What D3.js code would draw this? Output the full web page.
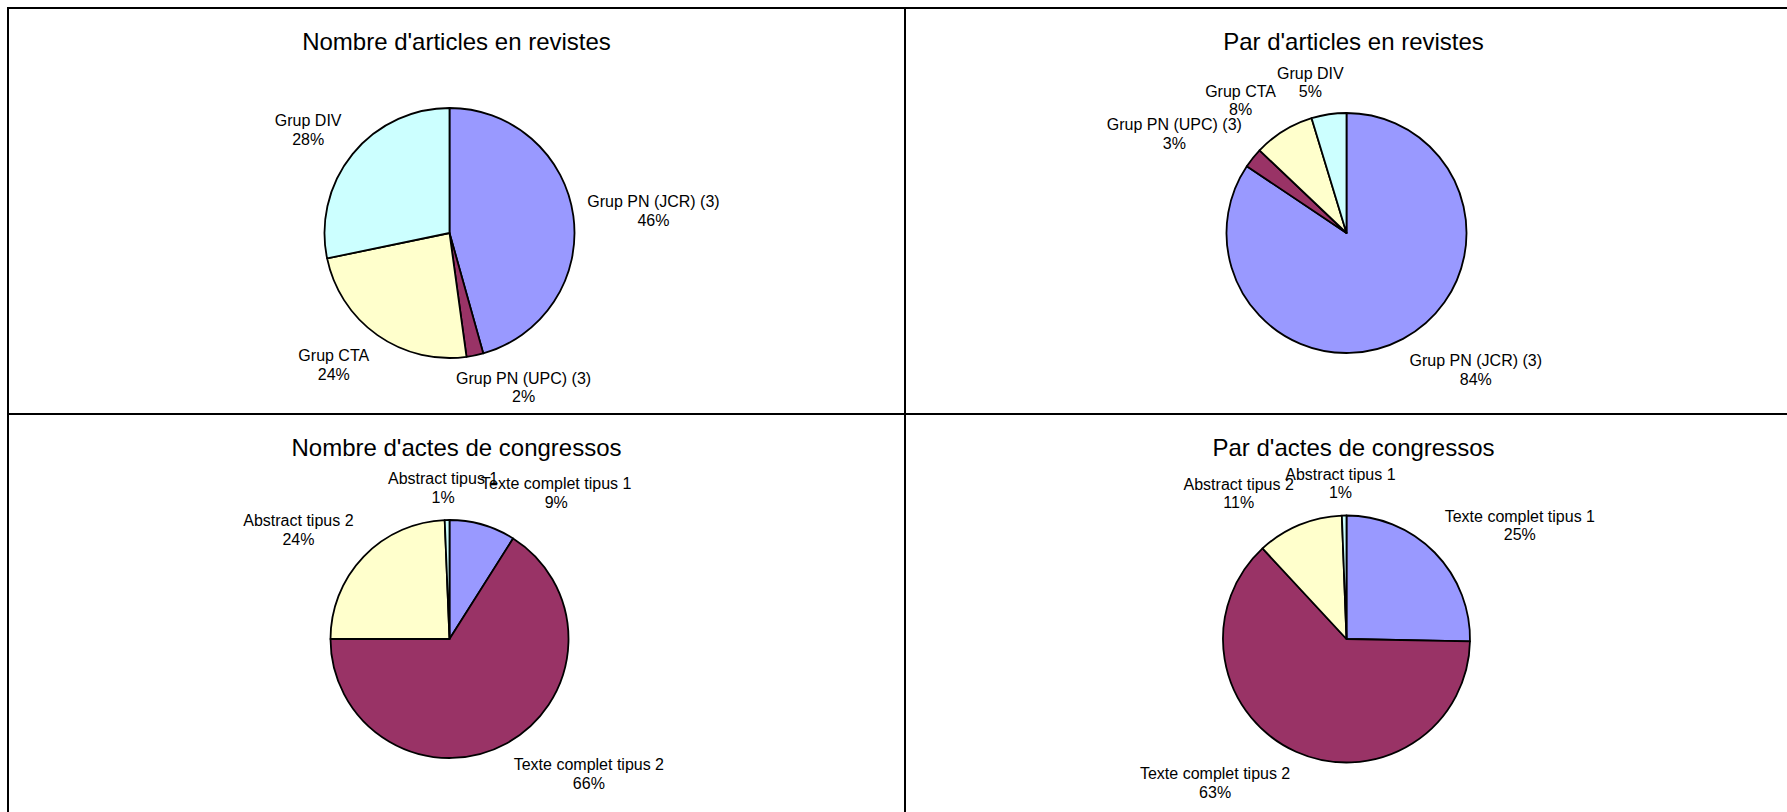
<!DOCTYPE html>
<html>
<head>
<meta charset="utf-8">
<script src="https://cdn.jsdelivr.net/npm/d3@7"></script>
<style>
  html, body { margin: 0; padding: 0; background: #ffffff; overflow: hidden; }
  svg { display: block; }
</style>
</head>
<body>
<svg id="chart" width="1787" height="812"></svg>
<script>
// ---------- data ----------
const panelTitles = [
  "Nombre d'articles en revistes",
  "Par d'articles en revistes",
  "Nombre d'actes de congressos",
  "Par d'actes de congressos"
];
const articleCategories = ["Grup PN (JCR) (3)", "Grup PN (UPC) (3)", "Grup CTA", "Grup DIV"];
const articleCounts = [21, 1, 11, 13];
const articleShares = [84.4, 2.7, 8.2, 4.7];
const congressCategories = ["Texte complet tipus 1", "Texte complet tipus 2", "Abstract tipus 2", "Abstract tipus 1"];
const congressCounts = [14, 103, 38, 1];
const congressShares = [25.3, 62.8, 11.3, 0.6];
const sliceColors = ["#9999FF", "#993366", "#FFFFCC", "#CCFFFF"];

// ---------- layout ----------
const panels = [
  { title: panelTitles[0], cats: articleCategories, values: articleCounts },
  { title: panelTitles[1], cats: articleCategories, values: articleShares },
  { title: panelTitles[2], cats: congressCategories, values: congressCounts },
  { title: panelTitles[3], cats: congressCategories, values: congressShares }
];
const panelW = 897, panelH = 406, originX = 8, originY = 8;
const pieRadii = [125, 120, 119, 123.5];
const fontFamily = "'Liberation Sans', Arial, Helvetica, sans-serif";
const labelGap = 13, lineH = 18.4;
const clamp = v => Math.max(-1, Math.min(1, v));

const svg = d3.select("#chart");
svg.append("rect").attr("width", 1787).attr("height", 812).attr("fill", "#fff");

panels.forEach((p, i) => {
  const col = i % 2, row = Math.floor(i / 2);
  const x0 = originX + col * panelW, y0 = originY + row * panelH;
  const g = svg.append("g").attr("transform", `translate(${x0},${y0})`);

  g.append("text")
    .attr("x", panelW / 2).attr("y", 42)
    .attr("text-anchor", "middle")
    .style("font-family", fontFamily).style("font-size", "24px").attr("fill", "#000")
    .text(p.title);

  const cx = panelW / 2 - 7, cy = 225;
  const r = pieRadii[i];
  const total = d3.sum(p.values);
  const pie = d3.pie().sort(null).value(d => d);
  const arcs = pie(p.values);
  const arc = d3.arc().innerRadius(0).outerRadius(r);
  const pg = g.append("g").attr("transform", `translate(${cx},${cy})`);

  pg.selectAll("path").data(arcs).join("path")
    .attr("d", arc)
    .attr("fill", (d, j) => sliceColors[j])
    .attr("stroke", "#000")
    .attr("stroke-width", 1.8)
    .attr("stroke-linejoin", "round");

  arcs.forEach((a, j) => {
    const mid = (a.startAngle + a.endAngle) / 2;
    const dx = Math.sin(mid), dy = -Math.cos(mid);
    const R = r + 1 + labelGap;
    const px = R * dx, py = R * dy;
    const pct = Math.round(p.values[j] / total * 100) + "%";
    const t = pg.append("text")
      .attr("text-anchor", "middle")
      .style("font-family", fontFamily).style("font-size", "16px").attr("fill", "#000");
    t.append("tspan").attr("x", 0).attr("dy", 0).text(p.cats[j]);
    t.append("tspan").attr("x", 0).attr("dy", lineH).text(pct);
    const w = t.node().getBBox().width;
    const h = lineH * 2;
    const bx = px + clamp(dx / 0.3) * w / 2;
    const by = py + clamp(dy / 0.75) * h / 2;
    t.attr("transform", `translate(${bx},${by - lineH / 2 + 5.7})`);
  });

  g.append("rect")
    .attr("x", 0).attr("y", 0).attr("width", panelW).attr("height", panelH)
    .attr("fill", "none").attr("stroke", "#000").attr("stroke-width", 2);
});
</script>
</body>
</html>
